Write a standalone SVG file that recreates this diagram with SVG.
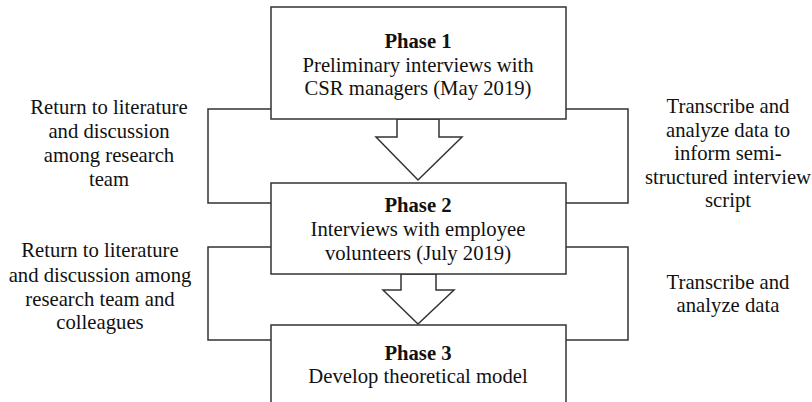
<svg xmlns="http://www.w3.org/2000/svg" width="812" height="402" viewBox="0 0 812 402" font-family="'Liberation Serif', 'Times New Roman', serif">
<style>
text{font-family:'Liberation Serif','Times New Roman',serif;font-size:20.7px;fill:#111;text-anchor:middle}
.b{font-weight:bold}
.box{fill:#fff;stroke:#333;stroke-width:1.5}
.ln{fill:none;stroke:#333;stroke-width:1.5}
.arr{fill:#fff;stroke:#333;stroke-width:1.5;stroke-linejoin:miter}
</style>
<rect width="812" height="402" fill="#fff"/>
<g id="connectors">
<polyline class="ln" points="271,109 208,109 208,203 271,203"/>
<polyline class="ln" points="566,109 628,109 628,203 566,203"/>
<polyline class="ln" points="271,247 208,247 208,340 271,340"/>
<polyline class="ln" points="566,247 628,247 628,340 566,340"/>
<polygon class="arr" points="397,119 439,119 439,137 462,137 418,180 376,137 397,137"/>
<polygon class="arr" points="401,274 436,274 436,290 454,290 418,324 383,290 401,290"/>
</g>
<g id="phase1">
<rect class="box" x="271" y="7" width="295" height="112"/>
<text class="b" x="418" y="48">Phase 1</text>
<text x="418" y="72">Preliminary interviews with</text>
<text x="418" y="95">CSR managers (May 2019)</text>
</g>
<g id="phase2">
<rect class="box" x="271" y="183" width="295" height="91"/>
<text class="b" x="418" y="212">Phase 2</text>
<text x="418" y="236">Interviews with employee</text>
<text x="418" y="260">volunteers (July 2019)</text>
</g>
<g id="phase3">
<rect class="box" x="271" y="325" width="295" height="90"/>
<text class="b" x="418" y="360">Phase 3</text>
<text x="418" y="383">Develop theoretical model</text>
</g>
<g id="label-left1">
<text x="109" y="114">Return to literature</text>
<text x="109" y="138">and discussion</text>
<text x="109" y="162">among research</text>
<text x="109" y="186">team</text>
</g>
<g id="label-right1">
<text x="728" y="113">Transcribe and</text>
<text x="728" y="137">analyze data to</text>
<text x="728" y="160">inform semi-</text>
<text x="728" y="184">structured interview</text>
<text x="728" y="207">script</text>
</g>
<g id="label-left2">
<text x="100" y="257">Return to literature</text>
<text x="100" y="282">and discussion among</text>
<text x="100" y="306">research team and</text>
<text x="100" y="329">colleagues</text>
</g>
<g id="label-right2">
<text x="728" y="289">Transcribe and</text>
<text x="728" y="312">analyze data</text>
</g>
</svg>
